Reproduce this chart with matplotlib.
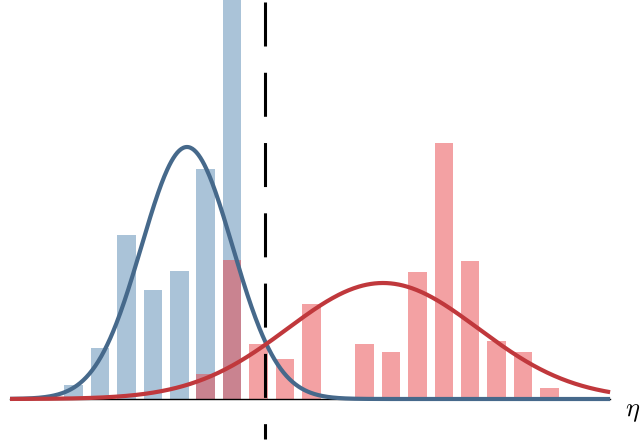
import numpy as np
import matplotlib
matplotlib.use('Agg')
import matplotlib.pyplot as plt

# bin index along eta, bar heights (density-like units)
blue_bins = [0, 1, 2, 3, 4, 5, 6]
blue_heights = [0.014, 0.051, 0.164, 0.109, 0.128, 0.230, 0.420]

red_bins = [5, 6, 7, 8, 9, 10, 11, 12, 13, 14, 15, 16, 17, 18]
red_heights = [0.025, 0.139, 0.055, 0.040, 0.095, 0.0, 0.055, 0.047,
               0.127, 0.256, 0.138, 0.058, 0.047, 0.011]

# fitted gaussians: (mean, sigma, peak)
blue_fit = (4.29, 1.72, 0.252)
red_fit = (11.70, 3.61, 0.116)

threshold = 7.24
x_range = (-2.40, 20.29)

blue_bar = '#aac3d8'
red_bar = '#e94549'
blue_line = '#46698b'
red_line = '#c0383c'


def gauss(x, fit):
    mu, sig, peak = fit
    return peak * np.exp(-(x - mu) ** 2 / (2 * sig ** 2))


def plot_eta():
    plt.rcParams['mathtext.fontset'] = 'cm'

    fig = plt.figure(figsize=(6.4, 4.45), dpi=100)
    ax = fig.add_axes([0, 0, 1, 1])

    bar_width = 0.70
    ax.bar(blue_bins, blue_heights, bar_width, color=blue_bar, linewidth=0, zorder=1)
    ax.bar(red_bins, red_heights, bar_width, color=red_bar, alpha=0.5, linewidth=0, zorder=2)

    # x axis line
    ax.plot(x_range, [0, 0], color='k', lw=1.0, zorder=3)

    xs = np.linspace(x_range[0], x_range[1], 600)
    ax.plot(xs, gauss(xs, blue_fit), color=blue_line, lw=3.0, zorder=4,
            solid_capstyle='butt')
    ax.plot(xs, gauss(xs, red_fit), color=red_line, lw=3.0, zorder=5,
            solid_capstyle='butt')

    # decision threshold
    ax.plot([threshold, threshold], [0.397, -0.040], color='k', lw=2.2,
            dashes=(14.4, 8.6), zorder=6)

    ax.text(x_range[1] + 0.55, 0.001, r'$\eta$', fontsize=19, ha='left', va='top')

    ax.set_xlim(-2.78, 21.42)
    ax.set_ylim(-0.046, 0.399)
    ax.axis('off')

    plt.savefig('out.png', dpi=100)


if __name__ == '__main__':
    plot_eta()
